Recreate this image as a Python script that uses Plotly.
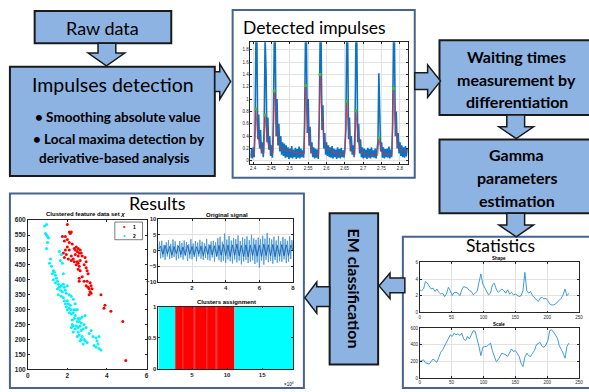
import numpy as np
import plotly.graph_objects as go

W, H = 589, 392

# ---------------- data ----------------
# Detected impulses: raw (abs) signal samples, uniform sampling
impulse_t0 = 2.393
impulse_dt = 0.0025
impulse_signal = [
    0.05, 0.19, 0.04, 0.22, 0.06, 0.50, 2.00, 2.00, 0.35, 0.75,
    0.20, 0.50, 0.12, 0.30, 0.06, 0.60, 2.00, 1.45, 0.30, 0.70,
    0.18, 0.40, 0.08, 0.25, 0.05, 0.70, 2.00, 2.00, 0.40, 1.00,
    0.25, 0.60, 0.15, 0.40, 0.10, 0.30, 0.08, 0.28, 0.05, 0.25,
    0.06, 0.22, 0.03, 0.20, 0.05, 0.24, 0.04, 0.18, 0.06, 0.21,
    0.03, 0.19, 0.05, 0.23, 0.04, 0.20, 0.06, 0.17, 0.05, 0.60,
    2.00, 2.00, 0.45, 1.00, 0.25, 0.55, 0.12, 0.30, 0.06, 0.22,
    0.04, 0.20, 0.05, 0.18, 0.03, 0.70, 2.00, 2.00, 0.50, 0.90,
    0.20, 0.45, 0.10, 0.30, 0.08, 0.25, 0.06, 0.22, 0.05, 0.24,
    0.04, 0.20, 0.06, 0.18, 0.03, 0.22, 0.05, 0.19, 0.04, 0.21,
    0.06, 0.17, 0.05, 0.20, 0.50, 2.00, 2.00, 0.35, 0.70, 0.15,
    0.40, 0.10, 0.25, 0.06, 0.50, 2.00, 1.90, 0.30, 0.60, 0.12,
    0.35, 0.06, 0.22, 0.04, 0.20, 0.05, 0.18, 0.03, 0.21, 0.05,
    0.19, 0.04, 0.22, 0.06, 0.17, 0.05, 0.20, 0.04, 0.18, 0.30,
    1.42, 0.60, 0.15, 0.30, 0.05, 0.22, 0.04, 0.19, 0.06, 0.20,
    0.05, 0.23, 0.04, 0.18, 0.06, 0.60, 2.00, 2.00, 0.40, 0.80,
    0.20, 0.45, 0.12, 0.30, 0.08, 0.25, 0.06, 0.22, 0.05, 0.24,
    0.07, 0.20,
]
smooth_t = [2.393, 2.403, 2.408, 2.412, 2.418, 2.424, 2.430, 2.433, 2.437, 2.443,
            2.450, 2.455, 2.458, 2.462, 2.468, 2.475, 2.490, 2.510, 2.530, 2.540,
            2.543, 2.547, 2.553, 2.560, 2.570, 2.579, 2.583, 2.587, 2.593, 2.600,
            2.610, 2.630, 2.650, 2.6555, 2.660, 2.666, 2.672, 2.678, 2.6805, 2.685,
            2.690, 2.700, 2.720, 2.740, 2.743, 2.748, 2.755, 2.770, 2.779, 2.783,
            2.787, 2.793, 2.800, 2.810, 2.822]
smooth_y = [0.10, 0.10, 0.82, 0.45, 0.25, 0.15, 0.12, 0.72, 0.42, 0.22,
            0.14, 0.13, 1.12, 0.65, 0.32, 0.20, 0.16, 0.14, 0.12, 0.11,
            1.20, 0.70, 0.30, 0.15, 0.10, 0.10, 1.38, 0.80, 0.40, 0.22,
            0.15, 0.12, 0.10, 0.94, 0.50, 0.22, 0.13, 0.10, 0.80, 0.45,
            0.22, 0.12, 0.09, 0.09, 0.36, 0.20, 0.12, 0.10, 0.10, 1.15,
            0.65, 0.30, 0.18, 0.15, 0.14]
peak_t = [2.408, 2.433, 2.458, 2.543, 2.583, 2.6555, 2.6805, 2.743, 2.783]
peak_val = [0.84, 0.74, 1.13, 1.22, 1.40, 0.96, 0.81, 0.37, 1.17]
impulse_xticks = [2.4, 2.45, 2.5, 2.55, 2.6, 2.65, 2.7, 2.75, 2.8]
impulse_xlabels = ["2.4", "2.45", "2.5", "2.55", "2.6", "2.65", "2.7", "2.75", "2.8"]
impulse_yticks = [0, 0.2, 0.4, 0.6, 0.8, 1.0, 1.2, 1.4, 1.6, 1.8]
impulse_ylabels = ["0", "0.2", "0.4", "0.6", "0.8", "1", "1.2", "1.4", "1.6", "1.8"]

# Clustered feature data set
feat1_x = [2.0, 2.1, 2.2, 2.15, 1.9, 1.75, 1.85, 2.0, 2.1, 2.25, 2.0, 1.9, 2.1, 2.35, 2.45,
           2.55, 2.65, 2.5, 2.6, 2.7, 1.8, 1.95, 2.2, 2.4, 2.55, 2.75, 2.3, 2.2, 2.35, 2.5,
           2.65, 2.9, 2.95, 2.45, 2.6, 2.55, 2.65, 2.85, 2.95, 3.0, 3.05, 2.75, 2.6, 2.6, 2.85,
           3.0, 3.15, 3.2, 2.95, 3.05, 3.1, 3.25, 3.15, 3.2, 3.1, 3.7, 3.9, 3.85, 4.2, 4.8,
           4.95, 2.05, 1.85, 2.4, 2.55]
feat1_y = [585, 560, 560, 555, 545, 545, 530, 535, 525, 520, 510, 500, 500, 505, 510,
           505, 500, 495, 490, 490, 490, 485, 480, 485, 480, 480, 470, 465, 460, 460,
           465, 475, 460, 450, 445, 435, 430, 450, 440, 430, 420, 410, 405, 395, 395,
           395, 390, 380, 380, 375, 370, 370, 360, 355, 350, 350, 315, 305, 295, 260,
           130, 470, 475, 500, 455]
feat2_x = [0.85, 0.95, 0.9, 1.0, 0.95, 1.05, 1.0, 0.95, 1.15, 1.1, 1.2, 1.3, 1.25, 1.35, 1.4,
           1.3, 1.45, 1.5, 1.6, 1.7, 1.65, 1.75, 1.55, 1.6, 1.7, 1.8, 1.85, 1.65, 1.75, 1.9,
           1.95, 1.7, 1.8, 2.2, 2.1, 2.3, 2.0, 1.9, 2.05, 2.15, 1.95, 2.1, 2.0, 2.2, 2.35,
           2.45, 2.5, 2.3, 2.2, 2.4, 2.35, 2.55, 2.65, 2.75, 2.9, 2.5, 2.7, 2.85, 2.25, 2.3,
           2.45, 2.55, 2.65, 2.2, 2.4, 2.3, 2.55, 2.7, 2.8, 2.95, 2.6, 2.75, 2.5, 2.7, 2.85,
           2.9, 2.8, 2.65, 3.0, 3.3, 3.45, 3.6, 3.5, 3.55, 3.35, 3.45, 3.6, 3.7, 3.1, 3.2,
           1.8, 2.0, 1.55, 1.85, 2.4, 1.4, 1.5, 2.1, 2.25, 2.6]
feat2_y = [580, 585, 555, 545, 550, 540, 525, 505, 470, 455, 445, 430, 420, 425, 415,
           400, 405, 395, 495, 485, 465, 455, 385, 375, 380, 385, 375, 365, 360, 365,
           355, 345, 340, 345, 350, 335, 330, 320, 320, 315, 310, 305, 300, 300, 300,
           300, 300, 290, 285, 280, 270, 270, 270, 275, 280, 260, 255, 250, 250, 245,
           245, 240, 245, 240, 235, 225, 225, 230, 235, 240, 215, 210, 210, 200, 200,
           195, 185, 195, 190, 210, 205, 210, 195, 185, 180, 175, 170, 165, 220, 230,
           420, 380, 350, 330, 320, 390, 370, 290, 265, 260]

# Original signal
orig_signal = [0.5, 2.8, -2.5, 3.1, -2.2, 1.8, -3.0, 2.6, -1.9, 3.3, -2.7, 2.1, -2.4, 3.5, -2.0,
               2.9, -3.1, 1.7, -2.6, 3.0, -2.2, 2.4, -2.9, 3.2, -1.8, 2.7, -3.3, 2.0, -2.5, 3.6,
               -2.8, 2.2, -2.1, 3.0, -3.4, 2.5, -1.9, 3.4, -2.6, 2.8, -3.0, 2.3, -2.4, 3.7, -2.9,
               2.0, -3.2, 2.9, -2.2, 3.1, -3.5, 2.6, -2.0, 3.9, -3.1, 4.4, -3.6, 2.8, -3.3, 5.4,
               -3.9, 3.5, -2.8, 4.6, -3.4, 3.2, -4.1, 4.0, -2.9, 3.6, -3.8, 4.8, -3.2, 3.0, -4.4,
               4.2, -3.5, 3.7, -3.0, 4.5, -4.0, 3.3, -3.6, 5.0, -3.1, 3.9, -4.3, 3.4, -3.8, 4.1,
               -5.4, 3.6, -3.2, 4.7, -4.5, 3.8, -2.9, 5.6, -3.7, 4.0, -3.3, 3.5, -4.2, 4.4, -3.0,
               3.2, -3.9, 4.6, -3.4, 3.0, -3.6, 4.3, -2.8, 3.7, -4.0, 3.1, -3.5, 4.5, -2.7, 3.3,
               0.2]
orig_core = [0.3, 1.4, -1.2, 1.6, -1.1, 1.3, -1.5, 1.2, -1.0, 1.5, -1.3, 1.1, -1.4, 1.6, -1.2,
             1.3, -1.5, 1.2, -1.1, 1.4, -1.6, 1.3, -1.2, 1.7, -1.4, 1.5, -1.8, 1.6, -1.5, 1.9,
             -1.6, 1.7, -1.9, 1.8, -1.5, 2.0, -1.7, 1.6, -1.9, 1.8, -2.0, 1.7, -1.6, 1.9, -1.8,
             1.7, -1.9, 2.0, -1.6, 1.8, -1.7, 1.9, -2.0, 1.6, -1.8, 1.9, -1.7, 1.8, -1.6, 1.7,
             0.1]
orig_xticks = [2, 4, 6, 8]
orig_yticks = [-10, -5, 0, 5, 10]

# Clusters assignment (sample index x 1e4)
cluster_start = [0.2, 2.6, 11.05]
cluster_end = [2.6, 11.05, 19.4]
cluster_id = [2, 1, 2]
mixed_x = [3.7, 5.3, 7.1, 8.5]

# Gamma statistics
stat_idx = [0, 3, 6, 9, 12, 15, 18, 21, 24, 27, 30, 33, 36, 39, 42, 45, 48, 51, 54, 57,
            60, 63, 66, 69, 72, 75, 78, 81, 84, 87, 90, 93, 96, 99, 102, 105, 108, 111, 114, 117,
            120, 123, 126, 129, 132, 135, 138, 141, 144, 147, 150, 153, 156, 159, 162, 165, 168, 171, 174, 177,
            180, 183, 186, 189, 192, 195, 198, 201, 204, 207, 210, 213, 216, 219, 222, 225, 228, 231, 234]
shape_val = [2.7, 2.6, 2.8, 3.7, 3.5, 3.2, 2.8, 2.9, 2.5, 2.8, 2.4, 2.2, 2.3, 1.9, 2.2, 3.0, 2.6, 2.0, 2.4, 2.4,
             2.3, 2.0, 2.7, 3.1, 3.0, 2.9, 2.6, 2.5, 2.1, 2.3, 2.5, 3.6, 4.6, 3.4, 2.9, 2.5, 2.1, 2.3, 3.3, 3.5,
             2.8, 2.4, 2.6, 2.8, 2.6, 2.3, 2.7, 2.2, 2.4, 2.1, 2.2, 2.0, 1.9, 2.0, 2.6, 4.8, 2.6, 2.3, 2.5, 2.0,
             1.8, 1.5, 1.3, 1.7, 1.8, 1.6, 1.7, 1.4, 1.0, 0.9, 0.9, 1.0, 1.2, 1.5, 1.7, 2.1, 2.8, 2.0, 2.3]
scale_val = [200, 210, 220, 185, 175, 170, 200, 230, 210, 190, 250, 310, 340, 390, 420, 480, 520, 500, 540, 520,
             530, 510, 540, 470, 450, 500, 470, 520, 570, 560, 480, 380, 270, 370, 380, 380, 400, 420, 330, 250,
             200, 220, 260, 300, 290, 280, 260, 300, 350, 320, 330, 300, 260, 180, 140, 250, 300, 270, 260, 300,
             330, 400, 420, 430, 380, 370, 400, 450, 570, 580, 550, 520, 480, 390, 350, 300, 240, 380, 420]

# ---------------- helpers ----------------
def X(px):
    return px / W

def Y(py):
    return 1 - py / H

def dom_x(l, r):
    return [l / W, r / W]

def dom_y(t, b):
    return [1 - b / H, 1 - t / H]

BOX_FILL = "#8db3e2"
BOX_LINE = "#1a1a1a"
PANEL_LINE = "#46648f"
TICKFONT = "Liberation Sans"
TEXTFONT = "Lato"

shapes = []
annotations = []

def rect(l, t, r, b, fill, line, lw=2, layer="below"):
    shapes.append(dict(type="rect", xref="paper", yref="paper", x0=X(l), x1=X(r),
                       y0=Y(b), y1=Y(t), fillcolor=fill, line=dict(color=line, width=lw),
                       layer=layer))

def poly(points):
    path = "M " + " L ".join(f"{X(a):.5f},{Y(b):.5f}" for a, b in points) + " Z"
    shapes.append(dict(type="path", xref="paper", yref="paper", path=path,
                       fillcolor=BOX_FILL, line=dict(color=BOX_LINE, width=1.5), layer="above"))

def down_arrow(s0, s1, h0, h1, y0, y1, y2):
    cx = (h0 + h1) / 2
    poly([(s0, y0), (s1, y0), (s1, y1), (h1, y1), (cx, y2), (h0, y1), (s0, y1)])

def horiz_arrow(s0, s1, h0, h1, x0, x1, x2):
    cy = (h0 + h1) / 2
    poly([(x0, s0), (x1, s0), (x1, h0), (x2, cy), (x1, h1), (x1, s1), (x0, s1)])

def text(s, x, y, size, bold=False, family=TEXTFONT, angle=0, color="black", xanchor="center"):
    if bold:
        s = "<b>" + s + "</b>"
    annotations.append(dict(text=s, x=X(x), y=Y(y), xref="paper", yref="paper",
                            showarrow=False, xanchor=xanchor, yanchor="middle",
                            textangle=angle, font=dict(family=family, size=size, color=color)))

# ---------------- boxes, panels, arrows ----------------
rect(233, 6, 417, 177, "white", PANEL_LINE)          # detected impulses panel
rect(8, 193, 305, 391, "white", PANEL_LINE)          # results panel
rect(405, 237, 600, 391, "white", PANEL_LINE)        # statistics panel
rect(33, 7, 171, 40, BOX_FILL, BOX_LINE, layer="above")        # raw data
rect(8, 64, 215, 175, BOX_FILL, BOX_LINE, layer="above")       # impulses detection
rect(442, 37, 600, 113, BOX_FILL, BOX_LINE, layer="above")     # waiting times
rect(442, 138, 600, 213, BOX_FILL, BOX_LINE, layer="above")    # gamma
rect(331, 213, 380, 367, BOX_FILL, BOX_LINE, layer="above")    # EM classification

down_arrow(97, 115, 87, 124, 40, 50, 63)
horiz_arrow(69, 89, 61, 97, 215, 220, 231)
horiz_arrow(70, 87, 62, 95, 417, 430, 443)
down_arrow(510, 528, 502, 537, 113, 125, 137)
down_arrow(510, 528, 502, 537, 213, 225, 237)
horiz_arrow(279, 294, 274, 300, 407, 392, 381)
horiz_arrow(288, 308, 283, 315, 331, 318, 306)

# ---------------- texts ----------------
text("Raw data", 102, 24, 18)
text("Impulses detection", 112, 82, 19.5)
text("• Smoothing absolute value", 117, 115, 13.5, bold=True)
text("• Local maxima detection by", 118, 137, 13.5, bold=True)
text("derivative-based analysis", 114, 157, 13.5, bold=True)
text("Detected impulses", 316, 24, 17.5)
text("Waiting times", 520, 53, 16, bold=True)
text("measurement by", 520, 77, 16, bold=True)
text("differentiation", 520, 99, 16, bold=True)
text("Gamma", 520, 153, 16, bold=True)
text("parameters", 520, 177, 16, bold=True)
text("estimation", 520, 200, 16, bold=True)
text("Statistics", 504, 246, 17.5)
text("EM classification", 356, 290, 16, bold=True, angle=90)
text("Results", 157, 203, 18)

text("Clustered feature data set <i>χ</i>", 84, 214, 6, bold=True, family=TICKFONT)
text("Original signal", 227, 215, 6, bold=True, family=TICKFONT)
text("Clusters assignment", 227, 303, 6, bold=True, family=TICKFONT)
text("Shape", 502, 259.5, 4.5, bold=True, family=TICKFONT)
text("Scale", 502, 326, 4.5, bold=True, family=TICKFONT)
text("×10<sup>4</sup>", 290, 387, 4.5, family=TICKFONT)

# legend of scatter
rect(114, 222, 142, 240, "white", "#262626", lw=0.6, layer="above")
text("•", 124, 227, 7, color="#ff0000", family=TICKFONT)
text("1", 134, 227, 5, bold=True, family=TICKFONT)
text("•", 124, 236, 7, color="#00e5ff", family=TICKFONT)
text("2", 134, 236, 5, bold=True, family=TICKFONT)

# ---------------- traces ----------------
fig = go.Figure()

imp_t = impulse_t0 + impulse_dt * np.arange(len(impulse_signal))
fig.add_trace(go.Scatter(x=imp_t, y=impulse_signal, mode="lines",
                         line=dict(color="#0d72c0", width=1.6), xaxis="x", yaxis="y"))
fig.add_trace(go.Scatter(x=smooth_t, y=smooth_y, mode="lines",
                         line=dict(color="#f0282d", width=0.8), xaxis="x", yaxis="y"))
fig.add_trace(go.Scatter(x=peak_t, y=peak_val, mode="markers",
                         marker=dict(color="#3dbb3d", size=3, symbol="square"), xaxis="x", yaxis="y"))

fig.add_trace(go.Scatter(x=feat1_x, y=feat1_y, mode="markers",
                         marker=dict(color="#ff0000", size=3), xaxis="x2", yaxis="y2"))
fig.add_trace(go.Scatter(x=feat2_x, y=feat2_y, mode="markers",
                         marker=dict(color="#00f0ff", size=3), xaxis="x2", yaxis="y2"))

orig_x = np.linspace(0, 8, len(orig_signal))
core_x = np.linspace(0, 8, len(orig_core))
fig.add_trace(go.Scatter(x=orig_x, y=orig_signal, mode="lines",
                         line=dict(color="#3f90d6", width=0.8), xaxis="x3", yaxis="y3"))
fig.add_trace(go.Scatter(x=core_x, y=orig_core, mode="lines",
                         line=dict(color="#0a5aa6", width=0.8), xaxis="x3", yaxis="y3"))

cl_colors = {1: "#ff0000", 2: "#00ffff"}
cs = np.array(cluster_start)
ce = np.array(cluster_end)
fig.add_trace(go.Bar(x=(cs + ce) / 2, y=[1] * len(cs), width=ce - cs, base=0,
                     marker=dict(color=[cl_colors[c] for c in cluster_id], line=dict(width=0)),
                     xaxis="x4", yaxis="y4"))
fig.add_trace(go.Bar(x=mixed_x, y=[1] * len(mixed_x), width=0.1, base=0, opacity=0.45,
                     marker=dict(color="#ff8080", line=dict(width=0)),
                     xaxis="x4", yaxis="y4"))

fig.add_trace(go.Scatter(x=stat_idx, y=shape_val, mode="lines",
                         line=dict(color="#2e8fd8", width=0.9), xaxis="x5", yaxis="y5"))
fig.add_trace(go.Scatter(x=stat_idx, y=scale_val, mode="lines",
                         line=dict(color="#2e8fd8", width=0.9), xaxis="x6", yaxis="y6"))

# ---------------- axes ----------------
def ax(domain, rng, tickvals, ticktext=None, size=4.5, bold=False, grid=True, anchor=None):
    d = dict(domain=domain, range=rng, tickvals=tickvals, showline=True, linecolor="#262626",
             linewidth=0.6, mirror="ticks", ticks="inside", ticklen=2, tickwidth=0.5,
             tickcolor="#262626", zeroline=False, showgrid=grid, gridcolor="#e2e2e2",
             gridwidth=0.5, fixedrange=True,
             tickfont=dict(family=TICKFONT, size=size, color="#262626",
                           weight="bold" if bold else "normal"))
    if ticktext is not None:
        d["ticktext"] = ticktext
    if anchor:
        d["anchor"] = anchor
    return d

layout = dict(
    width=W, height=H, autosize=False,
    margin=dict(l=0, r=0, t=0, b=0, pad=0),
    paper_bgcolor="white", plot_bgcolor="white",
    showlegend=False, barmode="overlay",
    shapes=shapes, annotations=annotations,
    xaxis=ax(dom_x(251, 410), [2.393, 2.822], impulse_xticks, impulse_xlabels, anchor="y"),
    yaxis=ax(dom_y(39, 163), [-0.053, 1.92], impulse_yticks, impulse_ylabels, anchor="x"),
    xaxis2=ax(dom_x(26, 146), [0, 6], [0, 2, 4, 6], size=6.5, bold=True, grid=False, anchor="y2"),
    yaxis2=ax(dom_y(220, 372), [100, 600], list(range(100, 601, 50)), size=6.5, bold=True,
              grid=False, anchor="x2"),
    xaxis3=ax(dom_x(158, 294), [0, 8], orig_xticks, size=6, bold=True, anchor="y3"),
    yaxis3=ax(dom_y(219, 283), [-10, 10], orig_yticks, size=6, bold=True, anchor="x3"),
    xaxis4=ax(dom_x(158, 294), [0.2, 19.4], [5, 10, 15], size=6, bold=True, grid=False, anchor="y4"),
    yaxis4=ax(dom_y(308, 372), [0, 1], [0, 0.5, 1], ["0", "0.5", "1"], size=6, bold=True,
              grid=False, anchor="x4"),
    xaxis5=ax(dom_x(422, 583), [0, 250], [0, 50, 100, 150, 200, 250], anchor="y5"),
    yaxis5=ax(dom_y(263, 314), [0, 6], [0, 2, 4, 6], anchor="x5"),
    xaxis6=ax(dom_x(422, 583), [0, 250], [0, 50, 100, 150, 200, 250], anchor="y6"),
    yaxis6=ax(dom_y(330, 381), [0, 600], [0, 200, 400, 600], anchor="x6"),
)
fig.update_layout(**layout)

fig.write_html("out.html", config={"displayModeBar": False},
               post_script="document.body.style.margin='0';document.body.style.padding='0';")
